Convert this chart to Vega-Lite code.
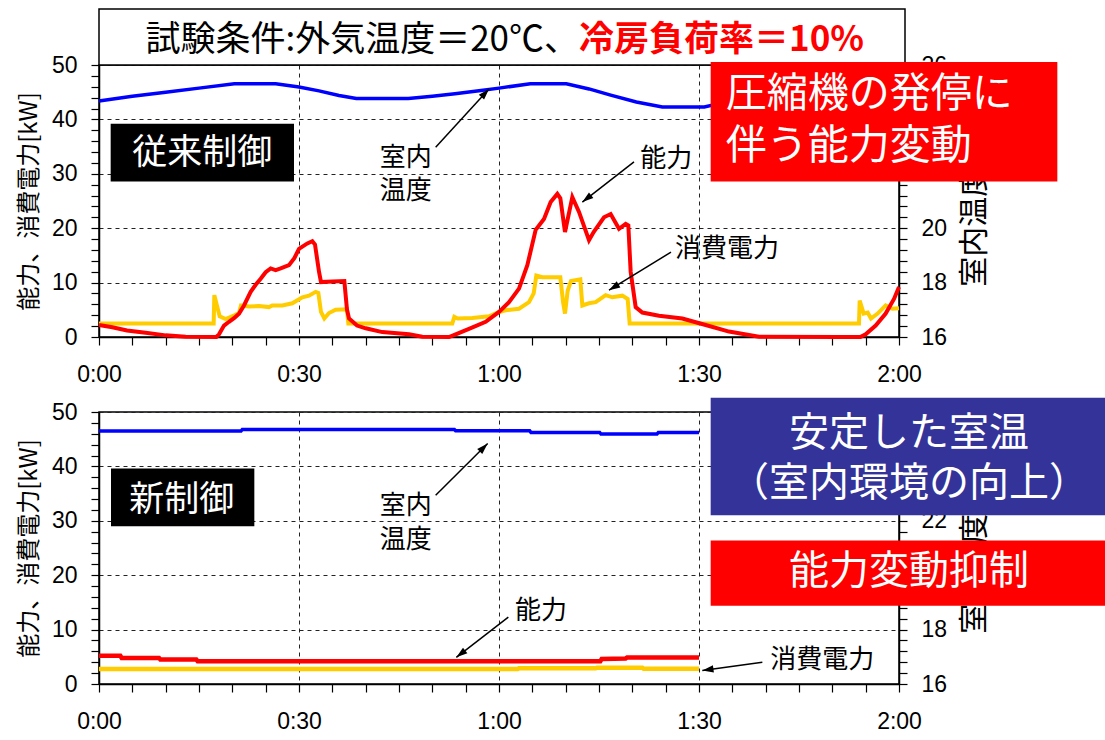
{
  "$schema": "https://vega.github.io/schema/vega-lite/v6.json",
  "background": "white",
  "padding": {"left": 16, "top": 7, "right": 0, "bottom": 5},
  "spacing": 75,
  "bounds": "flush",
  "config": {
    "view": {"stroke": "black", "strokeWidth": 1.5},
    "axis": {"domainColor": "black", "domainWidth": 1.5, "tickColor": "black", "tickWidth": 1.2, "tickSize": 8, "labelColor": "black", "labelFont": "Liberation Sans", "labelFontSize": 23, "labelFlush": false, "labelOverlap": false, "titleFont": "Noto Sans CJK JP", "titleColor": "black", "titleFontWeight": "normal"},
    "text": {"font": "Noto Sans CJK JP"}
  },
  "datasets": {
    "lines": [
      {"panel":"top","s":"p","t":0,"v":2.5},{"panel":"top","s":"p","t":17.2,"v":2.5},{"panel":"top","s":"p","t":17.3,"v":7.7},{"panel":"top","s":"p","t":17.6,"v":6.2},{"panel":"top","s":"p","t":18.1,"v":3.8},{"panel":"top","s":"p","t":19,"v":3.3},{"panel":"top","s":"p","t":20.3,"v":4.0},{"panel":"top","s":"p","t":21,"v":4.4},{"panel":"top","s":"p","t":21.3,"v":5.8},{"panel":"top","s":"p","t":22.5,"v":5.6},{"panel":"top","s":"p","t":24,"v":5.7},{"panel":"top","s":"p","t":25.5,"v":5.5},{"panel":"top","s":"p","t":26,"v":5.8},{"panel":"top","s":"p","t":27.5,"v":5.8},{"panel":"top","s":"p","t":29,"v":6.2},{"panel":"top","s":"p","t":30.5,"v":7.3},{"panel":"top","s":"p","t":31.5,"v":7.6},{"panel":"top","s":"p","t":32.5,"v":8.3},{"panel":"top","s":"p","t":32.9,"v":8.1},{"panel":"top","s":"p","t":33.3,"v":4.6},{"panel":"top","s":"p","t":33.8,"v":3.4},{"panel":"top","s":"p","t":34.5,"v":4.4},{"panel":"top","s":"p","t":35.5,"v":5.0},{"panel":"top","s":"p","t":37.2,"v":5.1},{"panel":"top","s":"p","t":37.4,"v":2.5},{"panel":"top","s":"p","t":53,"v":2.5},{"panel":"top","s":"p","t":53.3,"v":3.7},{"panel":"top","s":"p","t":53.8,"v":3.4},{"panel":"top","s":"p","t":56,"v":3.5},{"panel":"top","s":"p","t":58.5,"v":3.8},{"panel":"top","s":"p","t":60,"v":4.6},{"panel":"top","s":"p","t":61,"v":4.9},{"panel":"top","s":"p","t":63,"v":5.2},{"panel":"top","s":"p","t":64.5,"v":6.4},{"panel":"top","s":"p","t":65.2,"v":8.0},{"panel":"top","s":"p","t":65.6,"v":11.3},{"panel":"top","s":"p","t":66.5,"v":11.0},{"panel":"top","s":"p","t":69.2,"v":11.0},{"panel":"top","s":"p","t":69.6,"v":6.5},{"panel":"top","s":"p","t":69.9,"v":4.3},{"panel":"top","s":"p","t":70.3,"v":8.5},{"panel":"top","s":"p","t":70.8,"v":10.3},{"panel":"top","s":"p","t":72.2,"v":10.6},{"panel":"top","s":"p","t":72.5,"v":5.8},{"panel":"top","s":"p","t":73.5,"v":6.2},{"panel":"top","s":"p","t":74.5,"v":6.4},{"panel":"top","s":"p","t":76,"v":7.7},{"panel":"top","s":"p","t":77,"v":7.3},{"panel":"top","s":"p","t":78.5,"v":7.6},{"panel":"top","s":"p","t":79.3,"v":7.0},{"panel":"top","s":"p","t":79.6,"v":2.5},{"panel":"top","s":"p","t":114,"v":2.5},{"panel":"top","s":"p","t":114.1,"v":6.7},{"panel":"top","s":"p","t":114.7,"v":4.3},{"panel":"top","s":"p","t":115.3,"v":4.5},{"panel":"top","s":"p","t":115.8,"v":3.4},{"panel":"top","s":"p","t":116.8,"v":4.3},{"panel":"top","s":"p","t":118,"v":5.8},{"panel":"top","s":"p","t":119,"v":5.2},{"panel":"top","s":"p","t":120,"v":5.3},
      {"panel":"top","s":"c","t":0,"v":2.2},{"panel":"top","s":"c","t":2,"v":1.8},{"panel":"top","s":"c","t":4.2,"v":1.2},{"panel":"top","s":"c","t":7,"v":0.8},{"panel":"top","s":"c","t":10,"v":0.3},{"panel":"top","s":"c","t":13,"v":0.05},{"panel":"top","s":"c","t":17.6,"v":0},{"panel":"top","s":"c","t":18,"v":0.5},{"panel":"top","s":"c","t":18.75,"v":2.1},{"panel":"top","s":"c","t":19.5,"v":2.8},{"panel":"top","s":"c","t":20.3,"v":3.5},{"panel":"top","s":"c","t":21,"v":4.3},{"panel":"top","s":"c","t":21.75,"v":5.8},{"panel":"top","s":"c","t":22.75,"v":8.3},{"panel":"top","s":"c","t":23.5,"v":9.6},{"panel":"top","s":"c","t":24.25,"v":10.7},{"panel":"top","s":"c","t":25,"v":11.9},{"panel":"top","s":"c","t":25.75,"v":12.6},{"panel":"top","s":"c","t":26.5,"v":12.3},{"panel":"top","s":"c","t":27.25,"v":12.6},{"panel":"top","s":"c","t":28.5,"v":13.2},{"panel":"top","s":"c","t":29.3,"v":14.5},{"panel":"top","s":"c","t":30,"v":16.2},{"panel":"top","s":"c","t":31.25,"v":17.2},{"panel":"top","s":"c","t":32,"v":17.6},{"panel":"top","s":"c","t":32.4,"v":17.0},{"panel":"top","s":"c","t":33,"v":12},{"panel":"top","s":"c","t":33.3,"v":10.1},{"panel":"top","s":"c","t":35,"v":10.2},{"panel":"top","s":"c","t":36.8,"v":10.3},{"panel":"top","s":"c","t":37.2,"v":5},{"panel":"top","s":"c","t":37.5,"v":3.4},{"panel":"top","s":"c","t":38.7,"v":2.1},{"panel":"top","s":"c","t":40,"v":1.6},{"panel":"top","s":"c","t":42.5,"v":0.9},{"panel":"top","s":"c","t":46.5,"v":0.5},{"panel":"top","s":"c","t":48.5,"v":0.05},{"panel":"top","s":"c","t":52.5,"v":0},{"panel":"top","s":"c","t":53.5,"v":0.5},{"panel":"top","s":"c","t":55.5,"v":1.5},{"panel":"top","s":"c","t":58,"v":2.8},{"panel":"top","s":"c","t":60,"v":4.6},{"panel":"top","s":"c","t":61.5,"v":6.4},{"panel":"top","s":"c","t":63,"v":8.9},{"panel":"top","s":"c","t":64.25,"v":13.2},{"panel":"top","s":"c","t":65.5,"v":19.7},{"panel":"top","s":"c","t":66.75,"v":21.7},{"panel":"top","s":"c","t":67.75,"v":24.8},{"panel":"top","s":"c","t":68.75,"v":26.3},{"panel":"top","s":"c","t":69.2,"v":25.5},{"panel":"top","s":"c","t":69.9,"v":19.3},{"panel":"top","s":"c","t":71,"v":25.7},{"panel":"top","s":"c","t":72,"v":23},{"panel":"top","s":"c","t":73.5,"v":17.8},{"panel":"top","s":"c","t":74.2,"v":19.3},{"panel":"top","s":"c","t":75.75,"v":22.0},{"panel":"top","s":"c","t":76.75,"v":22.6},{"panel":"top","s":"c","t":78,"v":19.9},{"panel":"top","s":"c","t":79,"v":20.8},{"panel":"top","s":"c","t":79.4,"v":20.5},{"panel":"top","s":"c","t":79.75,"v":12},{"panel":"top","s":"c","t":80.5,"v":5.5},{"panel":"top","s":"c","t":81.5,"v":4.5},{"panel":"top","s":"c","t":84,"v":3.9},{"panel":"top","s":"c","t":87.5,"v":3.4},{"panel":"top","s":"c","t":91,"v":2.2},{"panel":"top","s":"c","t":94.5,"v":1.0},{"panel":"top","s":"c","t":99,"v":0.05},{"panel":"top","s":"c","t":111,"v":0},{"panel":"top","s":"c","t":114.2,"v":0},{"panel":"top","s":"c","t":115,"v":0.5},{"panel":"top","s":"c","t":116.5,"v":2.1},{"panel":"top","s":"c","t":118,"v":4.3},{"panel":"top","s":"c","t":119.25,"v":7.0},{"panel":"top","s":"c","t":120,"v":9.2},
      {"panel":"bot","s":"p","t":0,"v":2.75},{"panel":"bot","s":"p","t":62.8,"v":2.75},{"panel":"bot","s":"p","t":63,"v":2.9},{"panel":"bot","s":"p","t":74.5,"v":2.9},{"panel":"bot","s":"p","t":74.7,"v":3.0},{"panel":"bot","s":"p","t":81.5,"v":3.0},{"panel":"bot","s":"p","t":81.7,"v":2.8},{"panel":"bot","s":"p","t":90,"v":2.8},
      {"panel":"bot","s":"c","t":0,"v":5.2},{"panel":"bot","s":"c","t":3.2,"v":5.2},{"panel":"bot","s":"c","t":3.4,"v":4.8},{"panel":"bot","s":"c","t":9,"v":4.8},{"panel":"bot","s":"c","t":9.2,"v":4.5},{"panel":"bot","s":"c","t":14.6,"v":4.5},{"panel":"bot","s":"c","t":14.8,"v":4.2},{"panel":"bot","s":"c","t":75.2,"v":4.2},{"panel":"bot","s":"c","t":75.4,"v":4.6},{"panel":"bot","s":"c","t":79,"v":4.7},{"panel":"bot","s":"c","t":79.2,"v":4.85},{"panel":"bot","s":"c","t":90,"v":4.85}
    ],
    "temps": [
      {"panel":"top","t":0,"temp":24.68},{"panel":"top","t":5,"temp":24.85},{"panel":"top","t":10,"temp":25.0},{"panel":"top","t":15,"temp":25.15},{"panel":"top","t":20.3,"temp":25.31},{"panel":"top","t":26.5,"temp":25.31},{"panel":"top","t":30,"temp":25.19},{"panel":"top","t":33,"temp":25.05},{"panel":"top","t":36,"temp":24.88},{"panel":"top","t":38.6,"temp":24.77},{"panel":"top","t":46.4,"temp":24.77},{"panel":"top","t":50,"temp":24.85},{"panel":"top","t":53.4,"temp":24.94},{"panel":"top","t":57,"temp":25.05},{"panel":"top","t":60,"temp":25.15},{"panel":"top","t":64.7,"temp":25.31},{"panel":"top","t":70.1,"temp":25.31},{"panel":"top","t":73.5,"temp":25.12},{"panel":"top","t":76.75,"temp":24.89},{"panel":"top","t":80.6,"temp":24.64},{"panel":"top","t":84.5,"temp":24.46},{"panel":"top","t":90.8,"temp":24.46},{"panel":"top","t":93,"temp":24.58},{"panel":"top","t":97,"temp":24.8},{"panel":"top","t":102,"temp":25.05},{"panel":"top","t":108,"temp":25.25},{"panel":"top","t":114,"temp":25.3},{"panel":"top","t":120,"temp":25.2},
      {"panel":"bot","t":0,"temp":25.30},{"panel":"bot","t":21.3,"temp":25.30},{"panel":"bot","t":21.5,"temp":25.36},{"panel":"bot","t":53.3,"temp":25.36},{"panel":"bot","t":53.5,"temp":25.31},{"panel":"bot","t":64.6,"temp":25.31},{"panel":"bot","t":64.8,"temp":25.25},{"panel":"bot","t":75.1,"temp":25.25},{"panel":"bot","t":75.3,"temp":25.19},{"panel":"bot","t":83.7,"temp":25.19},{"panel":"bot","t":83.9,"temp":25.25},{"panel":"bot","t":90,"temp":25.25}
    ],
    "boxes": [
      {"panel":"top","kind":"title","x":0,"x2":120.9,"y":50,"y2":60.3},
      {"panel":"top","kind":"black","x":1.75,"x2":29.25,"y":28.6,"y2":39.2},
      {"panel":"top","kind":"red","x":91.75,"x2":143.75,"y":28.6,"y2":50.55},
      {"panel":"bot","kind":"black","x":1.8,"x2":23.3,"y":29.0,"y2":39.6},
      {"panel":"bot","kind":"blue","x":91.75,"x2":151,"y":31.0,"y2":52.6},
      {"panel":"bot","kind":"red","x":91.75,"x2":151,"y":14.4,"y2":26.4}
    ],
    "labels": [
      {"panel":"top","kind":"titleBlack","x":72,"y":54.6,"text":"試験条件:外気温度＝20℃、"},
      {"panel":"top","kind":"titleRed","x":72,"y":54.6,"text":"冷房負荷率＝10%"},
      {"panel":"top","kind":"boxLabel","x":15.5,"y":33.9,"text":"従来制御"},
      {"panel":"top","kind":"bigLeft","x":94,"y":44.4,"text":"圧縮機の発停に"},
      {"panel":"top","kind":"bigLeft","x":94,"y":34.9,"text":"伴う能力変動"},
      {"panel":"top","kind":"note","x":46.0,"y":32.9,"text":"室内"},
      {"panel":"top","kind":"note","x":46.0,"y":26.8,"text":"温度"},
      {"panel":"top","kind":"note","x":85.1,"y":32.7,"text":"能力"},
      {"panel":"top","kind":"note","x":94.2,"y":16.2,"text":"消費電力"},
      {"panel":"bot","kind":"boxLabel","x":12.4,"y":33.8,"text":"新制御"},
      {"panel":"bot","kind":"note","x":46.0,"y":32.7,"text":"室内"},
      {"panel":"bot","kind":"note","x":46.0,"y":26.5,"text":"温度"},
      {"panel":"bot","kind":"note","x":66.3,"y":13.4,"text":"能力"},
      {"panel":"bot","kind":"note","x":108.5,"y":4.45,"text":"消費電力"},
      {"panel":"bot","kind":"bigCenter","x":121.5,"y":46.0,"text":"安定した室温"},
      {"panel":"bot","kind":"bigCenter","x":121.5,"y":36.8,"text":"（室内環境の向上）"},
      {"panel":"bot","kind":"bigCenter","x":121.5,"y":20.6,"text":"能力変動抑制"}
    ],
    "arrows": [
      {"panel":"top","x1":50.5,"y1":34.9,"x2":58.5,"y2":45.6},
      {"panel":"top","x1":80.25,"y1":32.2,"x2":72.5,"y2":24.8},
      {"panel":"top","x1":85.8,"y1":15.6,"x2":76.5,"y2":8.6},
      {"panel":"bot","x1":50.5,"y1":34.7,"x2":58.3,"y2":44.2},
      {"panel":"bot","x1":61.4,"y1":12.3,"x2":53.6,"y2":4.9},
      {"panel":"bot","x1":99.5,"y1":4.0,"x2":90.5,"y2":2.5}
    ]
  },
  "vconcat": [
    {
      "width": 800, "height": 272,
      "resolve": {"scale": {"y": "independent"}, "axis": {"x": "independent", "y": "independent"}},
      "layer": [
        {
          "data": {"name": "lines"},
          "transform": [{"filter": "datum.panel === 'top'"}],
          "encoding": {
            "x": {"field": "t", "type": "quantitative", "scale": {"domain": [0, 120], "nice": false, "zero": false},
              "axis": {"title": null, "values": [0,5,10,15,20,25,30,35,40,45,50,55,60,65,70,75,80,85,90,95,100,105,110,115,120],
                "labelExpr": "datum.value % 30 === 0 ? floor(datum.value / 60) + ':' + (datum.value % 60 === 0 ? '00' : '30') : ''",
                "grid": true, "gridDash": [4, 4], "gridColor": "#222", "gridWidth": 1,
                "gridOpacity": {"condition": {"test": "datum.value % 30 === 0", "value": 1}, "value": 0},
                "labelPadding": 18}},
            "y": {"field": "v", "type": "quantitative", "scale": {"domain": [0, 50], "nice": false},
              "axis": {"orient": "left", "title": "能力、消費電力[kW]", "titleFontSize": 24, "titlePadding": 10,
                "values": [0,2,4,6,8,10,12,14,16,18,20,22,24,26,28,30,32,34,36,38,40,42,44,46,48,50],
                "labelExpr": "datum.value % 10 === 0 ? datum.label : ''", "labelPadding": 14,
                "grid": true, "gridDash": [4, 4], "gridColor": "#222", "gridWidth": 1,
                "gridOpacity": {"condition": {"test": "datum.value % 10 === 0", "value": 1}, "value": 0}}}
          },
          "layer": [
            {"transform": [{"filter": "datum.s === 'p'"}], "mark": {"type": "line", "color": "#FFCC00", "strokeWidth": 4}},
            {"transform": [{"filter": "datum.s === 'c'"}], "mark": {"type": "line", "color": "#FF0000", "strokeWidth": 4}}
          ]
        },
        {
          "data": {"name": "temps"},
          "transform": [{"filter": "datum.panel === 'top'"}],
          "mark": {"type": "line", "color": "#0000FF", "strokeWidth": 3.5},
          "encoding": {
            "x": {"field": "t", "type": "quantitative", "scale": {"domain": [0, 120], "nice": false, "zero": false}, "axis": null},
            "y": {"field": "temp", "type": "quantitative", "scale": {"domain": [16, 26], "nice": false, "zero": false},
              "axis": {"orient": "right", "title": "室内温度[℃]", "titleFontSize": 30, "titleAngle": 270, "titlePadding": 43, "grid": false,
                "values": [16,16.4,16.8,17.2,17.6,18,18.4,18.8,19.2,19.6,20,20.4,20.8,21.2,21.6,22,22.4,22.8,23.2,23.6,24,24.4,24.8,25.2,25.6,26],
                "labelExpr": "abs(datum.value - 2 * round(datum.value / 2)) < 0.01 ? format(datum.value, 'd') : ''", "labelPadding": 14}}
          }
        },
        {
          "encoding": {
            "x": {"type": "quantitative", "scale": {"domain": [0, 120], "nice": false, "zero": false}, "axis": null},
            "y": {"type": "quantitative", "scale": {"domain": [0, 50], "nice": false, "zero": false}, "axis": null}
          },
          "layer": [
            {"data": {"name": "boxes"}, "transform": [{"filter": "datum.panel === 'top' && datum.kind === 'title'"}],
              "mark": {"type": "rect", "fill": "white", "stroke": "black", "strokeWidth": 1.5},
              "encoding": {"x": {"field": "x", "type": "quantitative"}, "x2": {"field": "x2"}, "y": {"field": "y", "type": "quantitative"}, "y2": {"field": "y2"}}},
            {"data": {"name": "boxes"}, "transform": [{"filter": "datum.panel === 'top' && datum.kind === 'black'"}],
              "mark": {"type": "rect", "fill": "black"},
              "encoding": {"x": {"field": "x", "type": "quantitative"}, "x2": {"field": "x2"}, "y": {"field": "y", "type": "quantitative"}, "y2": {"field": "y2"}}},
            {"data": {"name": "boxes"}, "transform": [{"filter": "datum.panel === 'top' && datum.kind === 'red'"}],
              "mark": {"type": "rect", "fill": "#FF0000"},
              "encoding": {"x": {"field": "x", "type": "quantitative"}, "x2": {"field": "x2"}, "y": {"field": "y", "type": "quantitative"}, "y2": {"field": "y2"}}},
            {"data": {"name": "labels"}, "transform": [{"filter": "datum.panel === 'top' && datum.kind === 'titleBlack'"}],
              "mark": {"type": "text", "align": "right", "baseline": "middle", "fontSize": 35, "color": "black"},
              "encoding": {"x": {"field": "x", "type": "quantitative"}, "y": {"field": "y", "type": "quantitative"}, "text": {"field": "text"}}},
            {"data": {"name": "labels"}, "transform": [{"filter": "datum.panel === 'top' && datum.kind === 'titleRed'"}],
              "mark": {"type": "text", "align": "left", "baseline": "middle", "fontSize": 35, "fontWeight": "bold", "color": "#FF0000"},
              "encoding": {"x": {"field": "x", "type": "quantitative"}, "y": {"field": "y", "type": "quantitative"}, "text": {"field": "text"}}},
            {"data": {"name": "labels"}, "transform": [{"filter": "datum.panel === 'top' && datum.kind === 'boxLabel'"}],
              "mark": {"type": "text", "align": "center", "baseline": "middle", "fontSize": 35, "color": "white"},
              "encoding": {"x": {"field": "x", "type": "quantitative"}, "y": {"field": "y", "type": "quantitative"}, "text": {"field": "text"}}},
            {"data": {"name": "labels"}, "transform": [{"filter": "datum.panel === 'top' && datum.kind === 'bigLeft'"}],
              "mark": {"type": "text", "align": "left", "baseline": "middle", "fontSize": 41, "color": "white"},
              "encoding": {"x": {"field": "x", "type": "quantitative"}, "y": {"field": "y", "type": "quantitative"}, "text": {"field": "text"}}},
            {"data": {"name": "labels"}, "transform": [{"filter": "datum.panel === 'top' && datum.kind === 'note'"}],
              "mark": {"type": "text", "align": "center", "baseline": "middle", "fontSize": 26, "color": "black"},
              "encoding": {"x": {"field": "x", "type": "quantitative"}, "y": {"field": "y", "type": "quantitative"}, "text": {"field": "text"}}},
            {"data": {"name": "arrows"}, "transform": [{"filter": "datum.panel === 'top'"}],
              "mark": {"type": "rule", "color": "black", "strokeWidth": 1.5},
              "encoding": {"x": {"field": "x1", "type": "quantitative"}, "x2": {"field": "x2"}, "y": {"field": "y1", "type": "quantitative"}, "y2": {"field": "y2"}}},
            {"data": {"name": "arrows"}, "transform": [{"filter": "datum.panel === 'top'"}, {"calculate": "atan2((datum.x2 - datum.x1) * 800 / 120, (datum.y2 - datum.y1) * 272 / 50) * 180 / PI", "as": "ang"}],
              "mark": {"type": "point", "shape": "M0,0L-0.32,1L0.32,1Z", "filled": true, "color": "black", "opacity": 1, "size": 500},
              "encoding": {"x": {"field": "x2", "type": "quantitative"}, "y": {"field": "y2", "type": "quantitative"}, "angle": {"field": "ang", "type": "quantitative", "scale": null}}}
          ]
        }
      ]
    },
    {
      "width": 800, "height": 272,
      "resolve": {"scale": {"y": "independent"}, "axis": {"x": "independent", "y": "independent"}},
      "layer": [
        {
          "data": {"name": "lines"},
          "transform": [{"filter": "datum.panel === 'bot'"}],
          "encoding": {
            "x": {"field": "t", "type": "quantitative", "scale": {"domain": [0, 120], "nice": false, "zero": false},
              "axis": {"title": null, "values": [0,5,10,15,20,25,30,35,40,45,50,55,60,65,70,75,80,85,90,95,100,105,110,115,120],
                "labelExpr": "datum.value % 30 === 0 ? floor(datum.value / 60) + ':' + (datum.value % 60 === 0 ? '00' : '30') : ''",
                "grid": true, "gridDash": [4, 4], "gridColor": "#222", "gridWidth": 1,
                "gridOpacity": {"condition": {"test": "datum.value % 30 === 0", "value": 1}, "value": 0},
                "labelPadding": 18}},
            "y": {"field": "v", "type": "quantitative", "scale": {"domain": [0, 50], "nice": false},
              "axis": {"orient": "left", "title": "能力、消費電力[kW]", "titleFontSize": 24, "titlePadding": 10,
                "values": [0,2,4,6,8,10,12,14,16,18,20,22,24,26,28,30,32,34,36,38,40,42,44,46,48,50],
                "labelExpr": "datum.value % 10 === 0 ? datum.label : ''", "labelPadding": 14,
                "grid": true, "gridDash": [4, 4], "gridColor": "#222", "gridWidth": 1,
                "gridOpacity": {"condition": {"test": "datum.value % 10 === 0", "value": 1}, "value": 0}}}
          },
          "layer": [
            {"transform": [{"filter": "datum.s === 'p'"}], "mark": {"type": "line", "color": "#FFCC00", "strokeWidth": 4.5}},
            {"transform": [{"filter": "datum.s === 'c'"}], "mark": {"type": "line", "color": "#FF0000", "strokeWidth": 4.5}}
          ]
        },
        {
          "data": {"name": "temps"},
          "transform": [{"filter": "datum.panel === 'bot'"}],
          "mark": {"type": "line", "color": "#0000FF", "strokeWidth": 3.5},
          "encoding": {
            "x": {"field": "t", "type": "quantitative", "scale": {"domain": [0, 120], "nice": false, "zero": false}, "axis": null},
            "y": {"field": "temp", "type": "quantitative", "scale": {"domain": [16, 26], "nice": false, "zero": false},
              "axis": {"orient": "right", "title": "室内温度[℃]", "titleFontSize": 30, "titleAngle": 270, "titlePadding": 43, "grid": false,
                "values": [16,16.4,16.8,17.2,17.6,18,18.4,18.8,19.2,19.6,20,20.4,20.8,21.2,21.6,22,22.4,22.8,23.2,23.6,24,24.4,24.8,25.2,25.6,26],
                "labelExpr": "abs(datum.value - 2 * round(datum.value / 2)) < 0.01 ? format(datum.value, 'd') : ''", "labelPadding": 14}}
          }
        },
        {
          "encoding": {
            "x": {"type": "quantitative", "scale": {"domain": [0, 120], "nice": false, "zero": false}, "axis": null},
            "y": {"type": "quantitative", "scale": {"domain": [0, 50], "nice": false, "zero": false}, "axis": null}
          },
          "layer": [
            {"data": {"name": "boxes"}, "transform": [{"filter": "datum.panel === 'bot' && datum.kind === 'black'"}],
              "mark": {"type": "rect", "fill": "black"},
              "encoding": {"x": {"field": "x", "type": "quantitative"}, "x2": {"field": "x2"}, "y": {"field": "y", "type": "quantitative"}, "y2": {"field": "y2"}}},
            {"data": {"name": "boxes"}, "transform": [{"filter": "datum.panel === 'bot' && datum.kind === 'blue'"}],
              "mark": {"type": "rect", "fill": "#333399"},
              "encoding": {"x": {"field": "x", "type": "quantitative"}, "x2": {"field": "x2"}, "y": {"field": "y", "type": "quantitative"}, "y2": {"field": "y2"}}},
            {"data": {"name": "boxes"}, "transform": [{"filter": "datum.panel === 'bot' && datum.kind === 'red'"}],
              "mark": {"type": "rect", "fill": "#FF0000"},
              "encoding": {"x": {"field": "x", "type": "quantitative"}, "x2": {"field": "x2"}, "y": {"field": "y", "type": "quantitative"}, "y2": {"field": "y2"}}},
            {"data": {"name": "labels"}, "transform": [{"filter": "datum.panel === 'bot' && datum.kind === 'boxLabel'"}],
              "mark": {"type": "text", "align": "center", "baseline": "middle", "fontSize": 35, "color": "white"},
              "encoding": {"x": {"field": "x", "type": "quantitative"}, "y": {"field": "y", "type": "quantitative"}, "text": {"field": "text"}}},
            {"data": {"name": "labels"}, "transform": [{"filter": "datum.panel === 'bot' && datum.kind === 'bigCenter'"}],
              "mark": {"type": "text", "align": "center", "baseline": "middle", "fontSize": 40, "color": "white"},
              "encoding": {"x": {"field": "x", "type": "quantitative"}, "y": {"field": "y", "type": "quantitative"}, "text": {"field": "text"}}},
            {"data": {"name": "labels"}, "transform": [{"filter": "datum.panel === 'bot' && datum.kind === 'note'"}],
              "mark": {"type": "text", "align": "center", "baseline": "middle", "fontSize": 26, "color": "black"},
              "encoding": {"x": {"field": "x", "type": "quantitative"}, "y": {"field": "y", "type": "quantitative"}, "text": {"field": "text"}}},
            {"data": {"name": "arrows"}, "transform": [{"filter": "datum.panel === 'bot'"}],
              "mark": {"type": "rule", "color": "black", "strokeWidth": 1.5},
              "encoding": {"x": {"field": "x1", "type": "quantitative"}, "x2": {"field": "x2"}, "y": {"field": "y1", "type": "quantitative"}, "y2": {"field": "y2"}}},
            {"data": {"name": "arrows"}, "transform": [{"filter": "datum.panel === 'bot'"}, {"calculate": "atan2((datum.x2 - datum.x1) * 800 / 120, (datum.y2 - datum.y1) * 272 / 50) * 180 / PI", "as": "ang"}],
              "mark": {"type": "point", "shape": "M0,0L-0.32,1L0.32,1Z", "filled": true, "color": "black", "opacity": 1, "size": 500},
              "encoding": {"x": {"field": "x2", "type": "quantitative"}, "y": {"field": "y2", "type": "quantitative"}, "angle": {"field": "ang", "type": "quantitative", "scale": null}}}
          ]
        }
      ]
    }
  ]
}
